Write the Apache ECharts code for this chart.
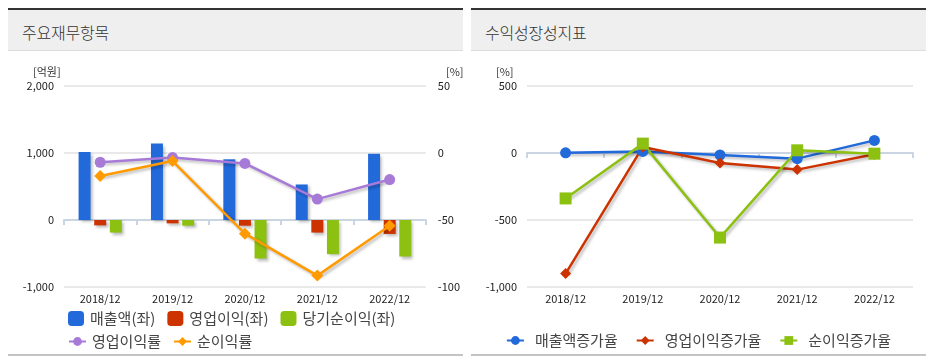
<!DOCTYPE html>
<html><head><meta charset="utf-8">
<script src="https://cdn.jsdelivr.net/npm/echarts@6/dist/echarts.min.js"></script>
<style>
html,body{margin:0;padding:0;background:#fff;width:931px;height:362px;overflow:hidden;font-family:"Noto Sans CJK KR","Noto Sans",sans-serif;}
.panel{position:absolute;top:8px;width:455px;height:348px;border-top:2px solid #333;border-bottom:2px solid #c4c4c4;box-sizing:border-box;}
.head{position:absolute;left:0;top:0;width:100%;height:41px;background:#efefef;border-bottom:1px solid #dcdcdc;box-sizing:border-box;}
.head span{position:absolute;left:14px;top:10px;font-size:16px;color:#333;font-weight:300;letter-spacing:-0.2px;}
.chart{position:absolute;left:0;top:41px;width:455px;height:303px;}
</style></head>
<body>
<div class="panel" style="left:8px;"><div class="head"><span>주요재무항목</span></div><div id="c1" class="chart"></div></div>
<div class="panel" style="left:471px;"><div class="head"><span>수익성장성지표</span></div><div id="c2" class="chart"></div></div>
<script>
const categories = ['2018/12','2019/12','2020/12','2021/12','2022/12'];
const sales = [1015, 1140, 906, 530, 990];
const opProfit = [-80, -50, -85, -188, -208];
const netIncome = [-188, -85, -575, -510, -545];
const opMargin = [-6.9, -3.4, -7.8, -34.4, -19.8];
const netMargin = [-17.1, -6.0, -60.2, -91.5, -54.3];
const salesGrowth = [1, 12, -15, -42, 94];
const opGrowth = [-900, 45, -74, -124, -10];
const netGrowth = [-339, 70, -631, 20, -5];

const FONT = '"Noto Sans CJK KR","Noto Sans",sans-serif';
const fmt = v => v.toLocaleString('en-US');
const shadow = {shadowColor:'rgba(0,0,0,0.28)', shadowBlur:3, shadowOffsetX:2, shadowOffsetY:2};

const xAxisCommon = {
  type:'category', data:categories, boundaryGap:true,
  axisLine:{lineStyle:{color:'#c9d5e3', width:2}},
  axisTick:{show:true, length:5, lineStyle:{color:'#c9d5e3', width:2}},
  axisLabel:{color:'#222', fontSize:11, fontFamily:FONT, margin:6}
};
const splitLine = {show:true, lineStyle:{color:'#e2e2e2', width:1.5}};

const c1 = echarts.init(document.getElementById('c1'), null, {renderer:'canvas'});
c1.setOption({
  animation:false,
  grid:{left:56, right:29, top:35, height:201},
  graphic:[
    {type:'text', left:25, top:15, style:{text:'[억원]', fill:'#333', font:'11px '+FONT}},
    {type:'text', left:438, top:15, style:{text:'[%]', fill:'#333', font:'11px '+FONT}}
  ],
  legend:[
    {data:['매출액(좌)','영업이익(좌)','당기순이익(좌)'], left:55, top:255, itemWidth:16, itemHeight:15, itemGap:12,
     icon:'roundRect', textStyle:{fontSize:15, color:'#444', fontFamily:FONT, padding:[0,0,0,1]}},
    {data:['영업이익률','순이익률'], left:55, top:278, itemWidth:17, itemHeight:11, itemGap:12,
     textStyle:{fontSize:15, color:'#444', fontFamily:FONT, padding:[0,0,0,1]}}
  ],
  xAxis:xAxisCommon,
  yAxis:[
    {type:'value', min:-1000, max:2000, interval:1000, position:'left',
     axisLine:{show:false}, axisTick:{show:false}, splitLine:splitLine,
     axisLabel:{color:'#222', fontSize:11, fontFamily:FONT, margin:10, formatter:fmt}},
    {type:'value', min:-100, max:50, interval:50, position:'right',
     axisLine:{show:false}, axisTick:{show:false}, splitLine:{show:false},
     axisLabel:{color:'#222', fontSize:11, fontFamily:FONT, margin:12, formatter:fmt}}
  ],
  series:[
    {name:'매출액(좌)', type:'bar', data:sales, barWidth:12, barGap:'30%', itemStyle:Object.assign({color:'#2269da'},shadow)},
    {name:'영업이익(좌)', type:'bar', data:opProfit, barWidth:12, barGap:'30%', itemStyle:Object.assign({color:'#cc3300'},shadow)},
    {name:'당기순이익(좌)', type:'bar', data:netIncome, barWidth:12, barGap:'30%', itemStyle:Object.assign({color:'#8cc011'},shadow)},
    {name:'영업이익률', type:'line', yAxisIndex:1, data:opMargin, symbol:'circle', symbolSize:11,
     lineStyle:Object.assign({color:'#a87ad8', width:2.5},shadow), itemStyle:{color:'#a87ad8'}},
    {name:'순이익률', type:'line', yAxisIndex:1, data:netMargin, symbol:'diamond', symbolSize:12,
     lineStyle:Object.assign({color:'#ff9a00', width:2.5},shadow), itemStyle:{color:'#ff9a00'}}
  ]
});

const c2 = echarts.init(document.getElementById('c2'), null, {renderer:'canvas'});
c2.setOption({
  animation:false,
  grid:{left:56, right:13, top:35, height:201},
  graphic:[
    {type:'text', left:25, top:15, style:{text:'[%]', fill:'#333', font:'11px '+FONT}}
  ],
  legend:{data:['매출액증가율','영업이익증가율','순이익증가율'], left:'center', top:277, itemWidth:17, itemHeight:11, itemGap:18,
    textStyle:{fontSize:15, color:'#444', fontFamily:FONT, padding:[0,0,0,6]}},
  xAxis:xAxisCommon,
  yAxis:{type:'value', min:-1000, max:500, interval:500,
    axisLine:{show:false}, axisTick:{show:false}, splitLine:splitLine,
    axisLabel:{color:'#222', fontSize:11, fontFamily:FONT, margin:10, formatter:fmt}},
  series:[
    {name:'매출액증가율', type:'line', data:salesGrowth, symbol:'circle', symbolSize:11,
     lineStyle:Object.assign({color:'#2269da', width:2.5},shadow), itemStyle:{color:'#2269da'}},
    {name:'영업이익증가율', type:'line', data:opGrowth, symbol:'diamond', symbolSize:11,
     lineStyle:Object.assign({color:'#cc3300', width:2.5},shadow), itemStyle:{color:'#cc3300'}},
    {name:'순이익증가율', type:'line', data:netGrowth, symbol:'rect', symbolSize:12,
     lineStyle:Object.assign({color:'#8cc011', width:2.5},shadow), itemStyle:{color:'#8cc011'}}
  ]
});
</script>
</body></html>
